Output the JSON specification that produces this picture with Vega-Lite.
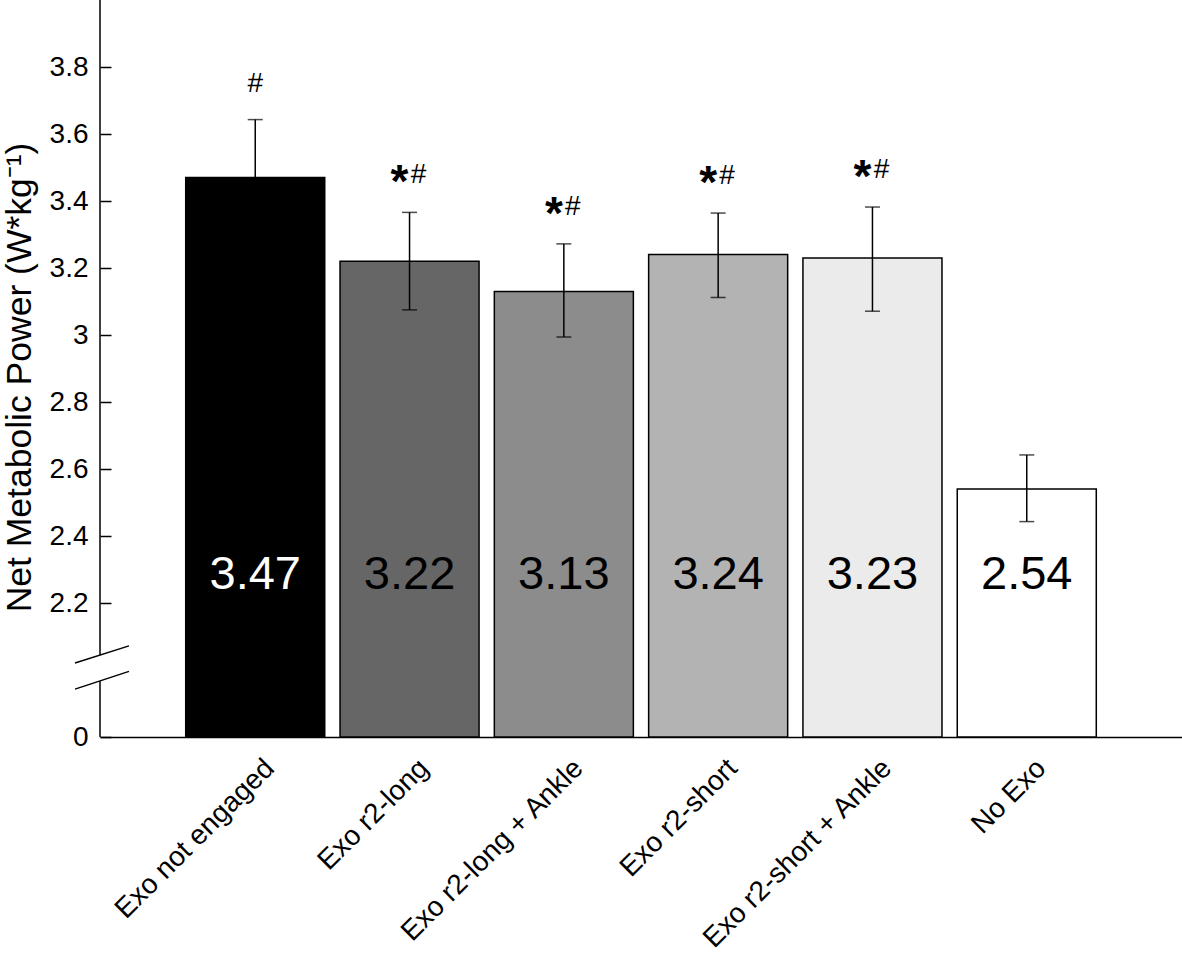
{
  "$schema": "https://vega.github.io/schema/vega-lite/v6.json",
  "width": 1082,
  "height": 737,
  "autosize": "none",
  "padding": {"left": 100, "top": 0, "right": 0, "bottom": 216},
  "background": "white",
  "config": {"view": {"stroke": null}, "font": "Liberation Sans"},
  "data": {
    "values": [
      {"condition": "Exo not engaged", "mean": 3.47, "lower": 3.297, "upper": 3.643, "sig": "#"},
      {"condition": "Exo r2-long", "mean": 3.22, "lower": 3.075, "upper": 3.366, "sig": "*#"},
      {"condition": "Exo r2-long + Ankle", "mean": 3.13, "lower": 2.994, "upper": 3.272, "sig": "*#"},
      {"condition": "Exo r2-short", "mean": 3.24, "lower": 3.112, "upper": 3.364, "sig": "*#"},
      {"condition": "Exo r2-short + Ankle", "mean": 3.23, "lower": 3.071, "upper": 3.382, "sig": "*#"},
      {"condition": "No Exo", "mean": 2.54, "lower": 2.443, "upper": 2.642, "sig": ""}
    ]
  },
  "encoding": {
    "x": {
      "field": "condition",
      "type": "nominal",
      "sort": null,
      "scale": {"paddingInner": 0.099, "paddingOuter": 0.5555},
      "axis": {
        "title": null,
        "ticks": false,
        "domain": true,
        "domainColor": "black",
        "domainWidth": 1.5,
        "labelAngle": -45,
        "labelAlign": "right",
        "labelBaseline": "top",
        "labelPadding": 17,
        "labelOffset": 5,
        "labelFontSize": 28,
        "labelLimit": 500,
        "labelColor": "black",
        "labelFont": "Liberation Sans"
      }
    }
  },
  "layer": [
    {
      "mark": {"type": "bar", "stroke": "black", "strokeWidth": 1.5},
      "encoding": {
        "y": {
          "field": "mean",
          "type": "quantitative",
          "scale": {"domain": [1.8, 4.0], "zero": false, "nice": false},
          "axis": {
            "title": "Net Metabolic Power (W*kg⁻¹)",
            "titleFontSize": 35.5,
            "titleFontWeight": "normal",
            "titleColor": "black",
            "titleFont": "Liberation Sans",
            "titleAngle": -90,
            "titleX": -63,
            "titleY": 377,
            "values": [1.8, 2.2, 2.4, 2.6, 2.8, 3.0, 3.2, 3.4, 3.6, 3.8],
            "labelExpr": "datum.value == 1.8 ? '0' : format(datum.value, '.1~f')",
            "labelFontSize": 28,
            "labelColor": "black",
            "labelFont": "Liberation Sans",
            "labelPadding": 23,
            "tickSize": -11,
            "tickWidth": 1.5,
            "tickColor": "black",
            "domain": false,
            "grid": false
          }
        },
        "y2": {"datum": 1.8},
        "fill": {
          "field": "condition",
          "type": "nominal",
          "sort": null,
          "scale": {"range": ["#000000", "#666666", "#8c8c8c", "#b3b3b3", "#ebebeb", "#ffffff"]},
          "legend": null
        }
      }
    },
    {
      "mark": {"type": "rule", "color": "black", "strokeWidth": 1.5},
      "encoding": {
        "y": {"field": "lower", "type": "quantitative"},
        "y2": {"field": "upper"}
      }
    },
    {
      "mark": {"type": "tick", "color": "black", "size": 15, "thickness": 1.5, "orient": "horizontal"},
      "encoding": {"y": {"field": "lower", "type": "quantitative"}}
    },
    {
      "mark": {"type": "tick", "color": "black", "size": 15, "thickness": 1.5, "orient": "horizontal"},
      "encoding": {"y": {"field": "upper", "type": "quantitative"}}
    },
    {
      "mark": {"type": "text", "fontSize": 47, "baseline": "middle", "align": "center", "font": "Liberation Sans"},
      "encoding": {
        "y": {"datum": 2.283, "type": "quantitative"},
        "text": {"field": "mean", "type": "quantitative", "format": ".2f"},
        "color": {"condition": {"test": "datum.condition === 'Exo not engaged'", "value": "white"}, "value": "black"}
      }
    },
    {
      "transform": [{"filter": "datum.sig === '#'"}],
      "mark": {"type": "text", "fontSize": 28, "baseline": "middle", "align": "center", "dy": -36, "color": "black", "font": "Liberation Sans"},
      "encoding": {
        "y": {"field": "upper", "type": "quantitative"},
        "text": {"value": "#"}
      }
    },
    {
      "transform": [{"filter": "datum.sig === '*#'"}],
      "mark": {"type": "text", "fontSize": 28, "baseline": "middle", "align": "center", "dy": -37, "dx": 9, "color": "black", "font": "Liberation Sans"},
      "encoding": {
        "y": {"field": "upper", "type": "quantitative"},
        "text": {"value": "#"}
      }
    },
    {
      "transform": [{"filter": "datum.sig === '*#'"}],
      "mark": {"type": "text", "fontSize": 46, "fontWeight": "bold", "baseline": "middle", "align": "center", "dy": -29, "dx": -10, "color": "black", "font": "Liberation Sans"},
      "encoding": {
        "y": {"field": "upper", "type": "quantitative"},
        "text": {"value": "*"}
      }
    },
    {
      "data": {"values": [{}]},
      "mark": {"type": "rule", "color": "black", "strokeWidth": 1.5},
      "encoding": {
        "x": {"value": 0},
        "y": {"datum": 1.8, "type": "quantitative"},
        "y2": {"datum": 1.967}
      }
    },
    {
      "data": {"values": [{}]},
      "mark": {"type": "rule", "color": "black", "strokeWidth": 1.5},
      "encoding": {
        "x": {"value": 0},
        "y": {"datum": 2.044, "type": "quantitative"},
        "y2": {"datum": 4.0}
      }
    },
    {
      "data": {"values": [{}]},
      "mark": {"type": "rule", "color": "black", "strokeWidth": 1.5},
      "encoding": {
        "x": {"value": -25},
        "x2": {"value": 29},
        "y": {"datum": 2.021, "type": "quantitative"},
        "y2": {"datum": 2.072}
      }
    },
    {
      "data": {"values": [{}]},
      "mark": {"type": "rule", "color": "black", "strokeWidth": 1.5},
      "encoding": {
        "x": {"value": -25},
        "x2": {"value": 29},
        "y": {"datum": 1.943, "type": "quantitative"},
        "y2": {"datum": 1.996}
      }
    }
  ]
}
